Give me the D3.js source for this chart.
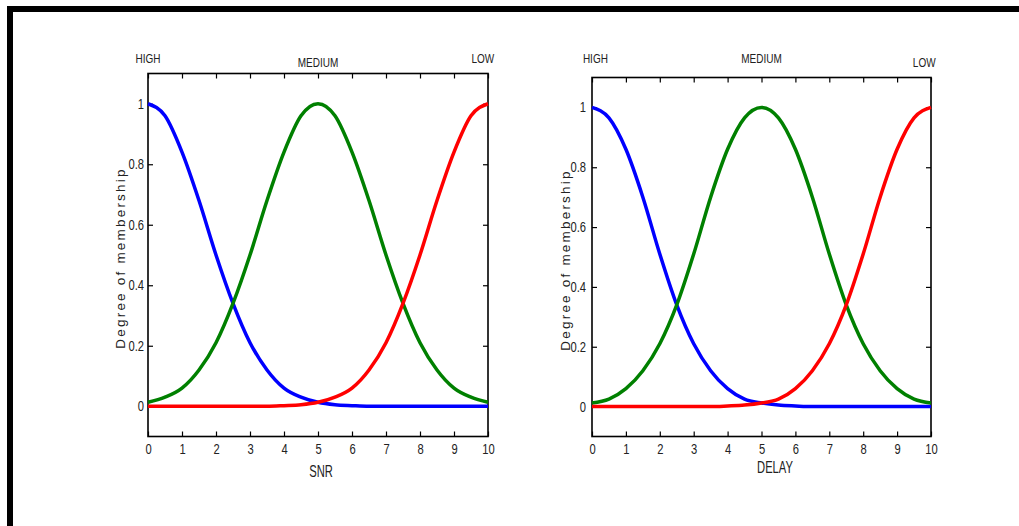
<!DOCTYPE html>
<html>
<head>
<meta charset="utf-8">
<script src="https://cdn.jsdelivr.net/npm/d3@7"></script>
<style>
  body { margin: 0; background: #fff; }
  svg { display: block; }
  .tick text { font-family: "Liberation Sans", Arial, sans-serif; font-size: 14px; fill: #222; }
  .lbl { font-family: "Liberation Sans", Arial, sans-serif; font-size: 12.5px; fill: #222; }
  .xlbl { font-family: "Liberation Sans", Arial, sans-serif; font-size: 16px; fill: #222; }
  .ylbl { font-family: "Liberation Sans", Arial, sans-serif; font-size: 13.5px; letter-spacing: 2.2px; fill: #222; }
</style>
</head>
<body>
<div id="chart"></div>
<script>
const xs = [0, 0.5, 1, 1.5, 2, 2.5, 3, 3.5, 4, 4.5, 5, 5.5, 6, 6.5, 7, 7.5, 8, 8.5, 9, 9.5, 10];

// SNR panel
const snrHigh   = [1, 0.96, 0.84, 0.68, 0.50, 0.34, 0.21, 0.12, 0.06, 0.03, 0.013, 0.005, 0.002, 0, 0, 0, 0, 0, 0, 0, 0];
const snrMedium = [0.013, 0.03, 0.06, 0.12, 0.21, 0.34, 0.50, 0.68, 0.84, 0.96, 1, 0.96, 0.84, 0.68, 0.50, 0.34, 0.21, 0.12, 0.06, 0.03, 0.013];
const snrLow    = [0, 0, 0, 0, 0, 0, 0, 0, 0.002, 0.005, 0.013, 0.03, 0.06, 0.12, 0.21, 0.34, 0.50, 0.68, 0.84, 0.96, 1];

// DELAY panel
const delayHigh   = [1, 0.965, 0.86, 0.70, 0.51, 0.34, 0.21, 0.12, 0.06, 0.025, 0.012, 0.005, 0.002, 0, 0, 0, 0, 0, 0, 0, 0];
const delayMedium = [0.012, 0.025, 0.06, 0.12, 0.21, 0.34, 0.51, 0.70, 0.86, 0.965, 1, 0.965, 0.86, 0.70, 0.51, 0.34, 0.21, 0.12, 0.06, 0.025, 0.012];
const delayLow    = [0, 0, 0, 0, 0, 0, 0, 0, 0.002, 0.005, 0.012, 0.025, 0.06, 0.12, 0.21, 0.34, 0.51, 0.70, 0.86, 0.965, 1];

const xTicks = [0, 1, 2, 3, 4, 5, 6, 7, 8, 9, 10];
const yTicks = [0, 0.2, 0.4, 0.6, 0.8, 1];
const yTickLabels = ["0", "0.2", "0.4", "0.6", "0.8", "1"];
const setNames = ["HIGH", "MEDIUM", "LOW"];
const colors = ["#0000ff", "#008000", "#ff0000"];

const W = 1019, H = 526;
const narrow = 0.8; // squeeze text horizontally, the original font is a narrow one

const svg = d3.select("#chart").append("svg")
  .attr("width", W).attr("height", H);

// black frame on top and left
svg.append("rect").attr("x", 7).attr("y", 6).attr("width", W - 7).attr("height", 6).attr("fill", "#000");
svg.append("rect").attr("x", 7).attr("y", 6).attr("width", 6).attr("height", H - 6).attr("fill", "#000");

const panels = [
  { left: 148, right: 488, top: 73.5, bottom: 436.5, xTitle: "SNR", xTitlePos: [321, 477],
    series: [snrHigh, snrMedium, snrLow], ypad: 4, ylabX: 125,
    names: [[0, 1.136], [5, 1.12], [9.85, 1.136]] },
  { left: 592, right: 931, top: 77.5, bottom: 436.5, xTitle: "DELAY", xTitlePos: [775, 473],
    series: [delayHigh, delayMedium, delayLow], ypad: 6, ylabX: 570,
    names: [[0.1, 1.149], [5, 1.149], [9.8, 1.134]] }
];

function narrowLabel(g, px, py, txt, cls, sx) {
  g.append("g").attr("transform", `translate(${px},${py}) scale(${sx},1)`)
    .append("text").attr("class", cls)
    .attr("text-anchor", "middle")
    .text(txt);
}

panels.forEach(p => {
  const x = d3.scaleLinear().domain([0, 10]).range([p.left, p.right]);
  const y = d3.scaleLinear().domain([-0.1, 1.1]).range([p.bottom, p.top]);
  const g = svg.append("g");

  const axStyle = sel => {
    sel.select(".domain").remove();
    sel.selectAll(".tick line").attr("stroke", "#000").attr("stroke-width", 1.2);
    sel.selectAll(".tick text").attr("transform", `scale(${narrow},1)`);
  };

  g.append("g").attr("transform", `translate(0,${p.bottom})`)
    .call(d3.axisBottom(x).tickValues(xTicks).tickSizeInner(-5).tickSizeOuter(0).tickPadding(8))
    .call(axStyle);
  g.append("g").attr("transform", `translate(0,${p.top})`)
    .call(d3.axisTop(x).tickValues(xTicks).tickSizeInner(-5).tickSizeOuter(0).tickFormat(""))
    .call(axStyle);
  g.append("g").attr("transform", `translate(${p.left},0)`)
    .call(d3.axisLeft(y).tickValues(yTicks).tickSizeInner(-5).tickSizeOuter(0).tickPadding(p.ypad / narrow)
      .tickFormat((d, i) => yTickLabels[i]))
    .call(axStyle);
  g.append("g").attr("transform", `translate(${p.right},0)`)
    .call(d3.axisRight(y).tickValues(yTicks).tickSizeInner(-5).tickSizeOuter(0).tickFormat(""))
    .call(axStyle);

  g.append("rect")
    .attr("x", p.left).attr("y", p.top)
    .attr("width", p.right - p.left).attr("height", p.bottom - p.top)
    .attr("fill", "none").attr("stroke", "#000").attr("stroke-width", 1.6);

  const line = d3.line()
    .x((d, i) => x(xs[i]))
    .y(d => y(d))
    .curve(d3.curveMonotoneX);

  p.series.forEach((s, k) => {
    g.append("path")
      .datum(s)
      .attr("d", line)
      .attr("fill", "none")
      .attr("stroke", colors[k])
      .attr("stroke-width", 3.5)
      .attr("stroke-linejoin", "round");
  });

  setNames.forEach((n, k) => {
    narrowLabel(g, x(p.names[k][0]), y(p.names[k][1]), n, "lbl", narrow);
  });

  narrowLabel(g, p.xTitlePos[0], p.xTitlePos[1], p.xTitle, "xlbl", 0.7);

  g.append("text").attr("class", "ylbl")
    .attr("transform", `translate(${p.ylabX},${(p.top + p.bottom) / 2 + 3}) rotate(-90)`)
    .attr("text-anchor", "middle")
    .text("Degree of membership");
});
</script>
</body>
</html>
